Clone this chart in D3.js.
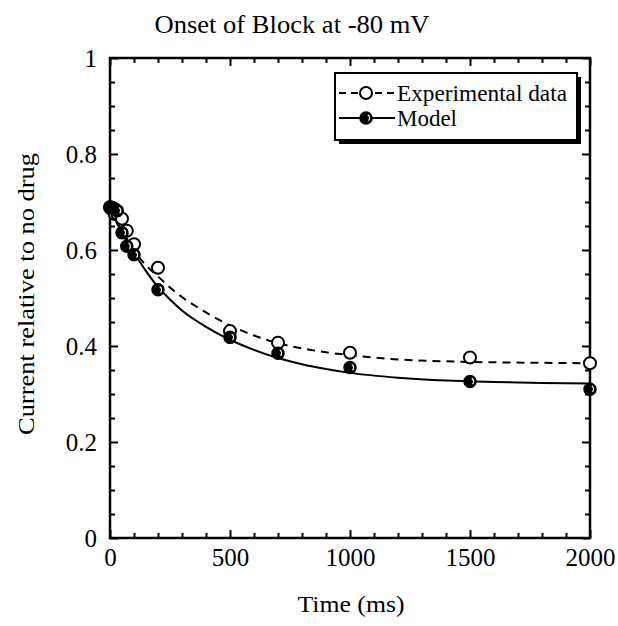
<!DOCTYPE html>
<html>
<head>
<meta charset="utf-8">
<script src="https://cdn.jsdelivr.net/npm/d3@7"></script>
<style>
  body { margin: 0; background: #fff; }
  text { font-family: "Liberation Serif", "Times New Roman", serif; fill: #000; }
</style>
</head>
<body>
<div id="chart"></div>
<script>
// data
var times = [0, 10, 20, 30, 50, 70, 100, 200, 500, 700, 1000, 1500, 2000];
var experimental = [0.688, 0.684, 0.675, 0.676, 0.665, 0.640, 0.612, 0.563, 0.431, 0.407, 0.386, 0.376, 0.364];
var model = [0.690, 0.688, 0.686, 0.682, 0.636, 0.608, 0.590, 0.517, 0.418, 0.385, 0.355, 0.326, 0.310];

// fitted curves
var fitTimes = [0, 25, 50, 75, 100, 150, 200, 250, 300, 400, 500, 600, 700, 800, 900, 1000, 1200, 1400, 1600, 1800, 2000];
var expFit = [0.686, 0.662, 0.640, 0.620, 0.600, 0.568, 0.545, 0.522, 0.502, 0.470, 0.443, 0.422, 0.406, 0.395, 0.387, 0.381, 0.372, 0.368, 0.366, 0.365, 0.364];
var modelFit = [0.690, 0.660, 0.636, 0.613, 0.594, 0.556, 0.523, 0.497, 0.474, 0.440, 0.413, 0.392, 0.375, 0.362, 0.352, 0.344, 0.334, 0.328, 0.325, 0.323, 0.322];

var xMajor = [0, 500, 1000, 1500, 2000];
var yMajor = [0, 0.2, 0.4, 0.6, 0.8, 1];
var yLabels = ["0", "0.2", "0.4", "0.6", "0.8", "1"];

var width = 618, height = 626;

var svg = d3.select("#chart").append("svg")
    .attr("width", width)
    .attr("height", height);

var x = d3.scaleLinear().domain([0, 2000]).range([110, 590]);
var y = d3.scaleLinear().domain([0, 1]).range([538, 58]);

var xMinor = d3.range(0, 2001, 100).filter(d => d % 500 !== 0);
var yMinor = d3.range(0, 21).map(d => d / 20).filter(d => Math.round(d * 20) % 4 !== 0);

// ticks on all four sides, pointing inward
function tickAxis(axisFn, scale, values, size, pos, labels, pad) {
    var g = svg.append("g").attr("transform", pos);
    var a = axisFn(scale).tickValues(values).tickSize(-size).tickSizeOuter(0);
    if (labels) {
        a.tickPadding(pad).tickFormat((d, i) => labels[i]);
    } else {
        a.tickFormat("");
    }
    g.call(a);
    g.attr("font-family", null).attr("font-size", null);
    g.select(".domain").remove();
    g.selectAll(".tick line").attr("stroke", "#000").attr("stroke-width", 2);
    g.selectAll(".tick text").style("font-size", "25px");
    return g;
}

tickAxis(d3.axisBottom, x, xMajor, 8, "translate(0,538)", xMajor.map(String), 10);
tickAxis(d3.axisBottom, x, xMinor, 5, "translate(0,538)");
tickAxis(d3.axisTop, x, xMajor, 8, "translate(0,58)");
tickAxis(d3.axisTop, x, xMinor, 5, "translate(0,58)");
tickAxis(d3.axisLeft, y, yMajor, 8, "translate(110,0)", yLabels, 13);
tickAxis(d3.axisLeft, y, yMinor, 5, "translate(110,0)");
tickAxis(d3.axisRight, y, yMajor, 8, "translate(590,0)");
tickAxis(d3.axisRight, y, yMinor, 5, "translate(590,0)");

// frame
svg.append("rect")
    .attr("x", x(0)).attr("y", y(1))
    .attr("width", x(2000) - x(0)).attr("height", y(0) - y(1))
    .attr("fill", "none").attr("stroke", "#000").attr("stroke-width", 2.5);

// fit curves
var line = d3.line().x(d => x(d[0])).y(d => y(d[1])).curve(d3.curveMonotoneX);

svg.append("path")
    .datum(fitTimes.map((t, i) => [t, expFit[i]]))
    .attr("d", line)
    .attr("fill", "none").attr("stroke", "#000").attr("stroke-width", 2)
    .attr("stroke-dasharray", "8,6");

svg.append("path")
    .datum(fitTimes.map((t, i) => [t, modelFit[i]]))
    .attr("d", line)
    .attr("fill", "none").attr("stroke", "#000").attr("stroke-width", 2);

// markers
function openMarker(g, cx, cy) {
    g.append("circle").attr("cx", cx).attr("cy", cy).attr("r", 6)
        .attr("fill", "#fff").attr("stroke", "#000").attr("stroke-width", 2);
}
function filledMarker(g, cx, cy) {
    g.append("circle").attr("cx", cx).attr("cy", cy).attr("r", 6)
        .attr("fill", "#000").attr("stroke", "#000").attr("stroke-width", 1.5);
    var arc = d3.arc().innerRadius(3).outerRadius(4.2).startAngle(0.5).endAngle(2.4);
    g.append("path").attr("d", arc()).attr("transform", "translate(" + cx + "," + cy + ")")
        .attr("fill", "#fff");
}

var pts = svg.append("g");
times.forEach(function(t, i) { openMarker(pts, x(t), y(experimental[i])); });
times.forEach(function(t, i) { filledMarker(pts, x(t), y(model[i])); });

// legend with drop shadow
var lg = svg.append("g");
lg.append("rect").attr("x", 339).attr("y", 77).attr("width", 242).attr("height", 67).attr("fill", "#000");
lg.append("rect").attr("x", 335).attr("y", 73).attr("width", 242).attr("height", 67)
    .attr("fill", "#fff").attr("stroke", "#000").attr("stroke-width", 2);

lg.append("line").attr("x1", 339).attr("x2", 395).attr("y1", 93).attr("y2", 93)
    .attr("stroke", "#000").attr("stroke-width", 2).attr("stroke-dasharray", "7,5");
openMarker(lg, 366, 93);
lg.append("text").attr("x", 397).attr("y", 101).style("font-size", "23px")
    .attr("textLength", 170).attr("lengthAdjust", "spacingAndGlyphs").text("Experimental data");

lg.append("line").attr("x1", 339).attr("x2", 395).attr("y1", 118).attr("y2", 118)
    .attr("stroke", "#000").attr("stroke-width", 2);
filledMarker(lg, 366, 118);
lg.append("text").attr("x", 397).attr("y", 126).style("font-size", "23px")
    .attr("textLength", 60).attr("lengthAdjust", "spacingAndGlyphs").text("Model");

// titles
svg.append("text").attr("x", 292).attr("y", 33).attr("text-anchor", "middle")
    .style("font-size", "26px").attr("textLength", 275).attr("lengthAdjust", "spacingAndGlyphs")
    .text("Onset of Block at -80 mV");

svg.append("text").attr("x", 351).attr("y", 612).attr("text-anchor", "middle")
    .style("font-size", "24px").attr("textLength", 107).attr("lengthAdjust", "spacingAndGlyphs")
    .text("Time (ms)");

svg.append("text").attr("transform", "translate(34,294) rotate(-90)").attr("text-anchor", "middle")
    .style("font-size", "24px").attr("textLength", 282).attr("lengthAdjust", "spacingAndGlyphs")
    .text("Current relative to no drug");
</script>
</body>
</html>
